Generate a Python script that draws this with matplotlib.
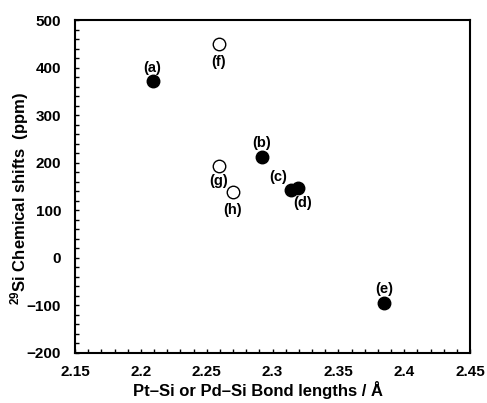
import matplotlib
matplotlib.use("Agg")
import matplotlib.pyplot as plt
from matplotlib.ticker import MultipleLocator

plt.rcParams['font.family'] = ['Liberation Sans', 'DejaVu Sans']
plt.rcParams['font.weight'] = 'bold'
plt.rcParams['mathtext.fontset'] = 'custom'
plt.rcParams['mathtext.bf'] = 'Liberation Sans:bold'
plt.rcParams['mathtext.rm'] = 'Liberation Sans:bold'
plt.rcParams['mathtext.default'] = 'bf'

filled_labels = ['(a)', '(b)', '(c)', '(d)', '(e)']
filled_x = [2.209, 2.292, 2.314, 2.319, 2.385]
filled_y = [371, 213, 143, 147, -94]

open_labels = ['(f)', '(g)', '(h)']
open_x = [2.259, 2.259, 2.270]
open_y = [449, 194, 139]

fig = plt.figure(figsize=(4.87, 4.03), dpi=100)
ax = fig.add_axes([75/487, 1-353/403, 395/487, 333/403])

ax.plot(filled_x, filled_y, 'o', color='black', markersize=9, linestyle='none', zorder=3)
ax.plot(open_x, open_y, 'o', markerfacecolor='white', markeredgecolor='black',
        markeredgewidth=1.0, markersize=9, linestyle='none', zorder=3)

offsets = {'(a)': (0, 9.5), '(b)': (0, 9.5), '(c)': (-9.5, 9.5), '(d)': (3.6, -11),
           '(e)': (0, 10), '(f)': (0, -13), '(g)': (0, -11), '(h)': (0, -13)}
for lab, x, y in zip(filled_labels + open_labels, filled_x + open_x, filled_y + open_y):
    dx, dy = offsets[lab]
    ax.annotate(lab, (x, y), xytext=(dx, dy), textcoords='offset points',
                ha='center', va='center', fontsize=10.5, fontweight='bold')

ax.set_xlim(2.15, 2.45)
ax.set_ylim(-200, 500)
ax.xaxis.set_minor_locator(MultipleLocator(0.01))
ax.yaxis.set_major_locator(MultipleLocator(100))
ax.yaxis.set_minor_locator(MultipleLocator(20))
ax.set_xticks([2.15, 2.2, 2.25, 2.3, 2.35, 2.4, 2.45])
ax.set_xticklabels(['2.15', '2.2', '2.25', '2.3', '2.35', '2.4', '2.45'])
ax.tick_params(axis='both', which='both', direction='in', top=False, right=False,
               labelsize=11)
ax.tick_params(which='major', length=3, width=1)
ax.tick_params(which='minor', length=3, width=1)
ax.tick_params(axis='x', pad=9)
ax.tick_params(axis='y', pad=10)
for lbl in ax.get_xticklabels() + ax.get_yticklabels():
    lbl.set_fontweight('bold')
for s in ax.spines.values():
    s.set_linewidth(1.5)

ax.set_xlabel('Pt\u2013Si or Pd\u2013Si Bond lengths / \u00c5', fontsize=12, fontweight='bold',
              va='center')
ax.set_ylabel('$^{29}$Si Chemical shifts  (ppm)', fontsize=12, fontweight='bold',
              va='center')
ax.xaxis.set_label_coords((258 - 75) / 395, (353 - 390) / 333)
ax.yaxis.set_label_coords((20 - 75) / 395, (353 - 198) / 333)

fig.savefig('out.png', dpi=100)
